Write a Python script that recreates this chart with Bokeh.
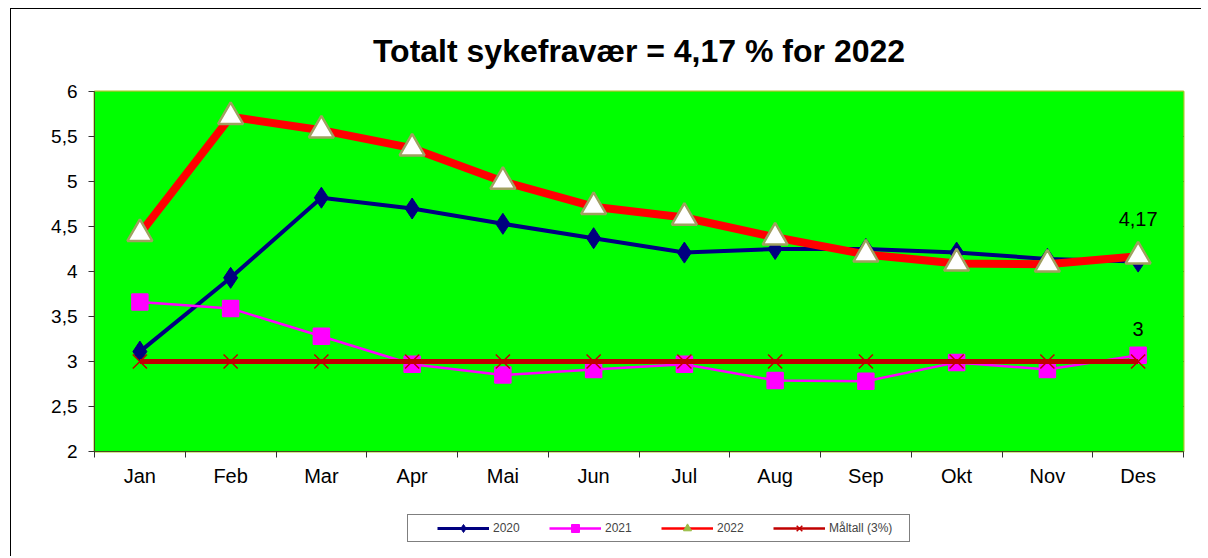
from bokeh.plotting import figure
from bokeh.layouts import column
from bokeh.models import (FixedTicker, Legend, LegendItem, Label, BoxAnnotation,
                          ColumnDataSource, Range1d, Title)
from bokeh.embed import file_html
from bokeh.resources import INLINE

months = ["Jan", "Feb", "Mar", "Apr", "Mai", "Jun", "Jul", "Aug", "Sep", "Okt", "Nov", "Des"]
y2020 = [3.11, 3.93, 4.82, 4.70, 4.53, 4.37, 4.21, 4.25, 4.25, 4.21, 4.14, 4.11]
y2021 = [3.66, 3.59, 3.28, 2.97, 2.85, 2.91, 2.97, 2.79, 2.78, 2.99, 2.91, 3.07]
y2022 = [4.42, 5.72, 5.57, 5.37, 5.00, 4.72, 4.60, 4.38, 4.19, 4.09, 4.08, 4.17]
target = [3, 3, 3, 3, 3, 3, 3, 3, 3, 3, 3, 3]
yticks = [2, 2.5, 3, 3.5, 4, 4.5, 5, 5.5, 6]
title_text = "Totalt sykefravær = 4,17 % for 2022"
series_names = ["2020", "2021", "2022", "Måltall (3%)"]

FONT = "Liberation Sans"
xs = list(range(1, len(months) + 1))

# ---------------- main chart ----------------
p = figure(width=1190, height=487, output_backend="svg", toolbar_location=None,
           x_range=Range1d(0.5, 12.5), y_range=Range1d(2, 6),
           min_border_left=83, min_border_right=18, min_border_top=82, min_border_bottom=45)

p.background_fill_color = "white"
p.border_fill_color = "white"
p.outline_line_color = "#a6c828"
p.outline_line_width = 2

p.add_layout(BoxAnnotation(left=0.5, right=12.5, bottom=2, top=6, fill_color="#00ff00",
                           fill_alpha=1, line_alpha=0, level="underlay"))

# spacer below the title, then the title
p.add_layout(Title(text="\u00a0", text_font_size="6px", text_font=FONT), "above")
p.title.text = title_text
p.title.align = "center"
p.title.text_font = FONT
p.title.text_font_size = "32px"
p.title.text_font_style = "bold"
p.title.text_color = "black"

p.xaxis.ticker = FixedTicker(ticks=xs, minor_ticks=[i + 0.5 for i in range(0, 13)])
p.xaxis.major_label_overrides = {i + 1: m for i, m in enumerate(months)}
p.xaxis.major_tick_out = 0
p.xaxis.major_tick_in = 0
p.xaxis.minor_tick_out = 6
p.xaxis.minor_tick_in = 0
p.xaxis.minor_tick_line_color = "#333333"
p.xaxis.axis_line_color = "#4a4a20"
p.xaxis.major_label_standoff = 7
p.xaxis.major_label_text_font = FONT
p.xaxis.major_label_text_font_size = "20px"
p.xaxis.major_label_text_color = "black"

p.yaxis.ticker = FixedTicker(ticks=yticks, minor_ticks=[])
p.yaxis.major_label_overrides = {t: (f"{t:g}").replace(".", ",") for t in yticks}
p.yaxis.major_tick_out = 6
p.yaxis.major_tick_in = 0
p.yaxis.major_tick_line_color = "#333333"
p.yaxis.axis_line_color = "#4a4a20"
p.yaxis.major_label_standoff = 11
p.yaxis.major_label_text_font = FONT
p.yaxis.major_label_text_font_size = "19px"
p.yaxis.major_label_text_color = "black"

p.xgrid.visible = False
p.ygrid.ticker = FixedTicker(ticks=yticks[1:-1])
p.ygrid.grid_line_color = "black"
p.ygrid.grid_line_width = 1
p.ygrid.level = "underlay"

src = ColumnDataSource(dict(x=xs, a=y2020, b=y2021, c=y2022, t=target))
p.line("x", "a", source=src, line_color="#000080", line_width=4)
p.scatter("x", "a", source=src, marker="diamond", size=21, fill_color="#000080", line_color="#000080")
p.line("x", "b", source=src, line_color="#ff00ff", line_width=2.5)
p.scatter("x", "b", source=src, marker="square", size=16, fill_color="#ff00ff", line_color="#ff00ff",
          line_width=1.5)
p.line("x", "c", source=src, line_color="#ff0000", line_width=8)
p.scatter("x", "c", source=src, marker="triangle", size=25, fill_color="white", line_color="#a0a060",
          line_width=2.5)
p.line("x", "t", source=src, line_color="#c00000", line_width=5)
p.scatter("x", "t", source=src, marker="x", size=20, line_color="#c00000", line_width=1.5)

p.add_layout(Label(x=xs[-1], y=y2022[-1], text=f"{y2022[-1]:.2f}".replace(".", ","),
                   y_offset=30, text_align="center", text_baseline="bottom",
                   text_font=FONT, text_font_size="20px", text_color="black"))
p.add_layout(Label(x=xs[-1], y=target[-1], text=f"{target[-1]:g}",
                   y_offset=26, text_align="center", text_baseline="bottom",
                   text_font=FONT, text_font_size="20px", text_color="black"))

# ---------------- legend strip ----------------
q = figure(width=1190, height=60, output_backend="svg", toolbar_location=None,
           x_range=Range1d(0, 1), y_range=Range1d(0, 1),
           min_border_left=0, min_border_right=0, min_border_top=0, min_border_bottom=0)
q.axis.visible = False
q.grid.visible = False
q.outline_line_color = None
q.background_fill_color = "white"
q.border_fill_color = "white"

e = ColumnDataSource(dict(x=[-5, -4], y=[-5, -4]))
l1 = q.line("x", "y", source=e, line_color="#000080", line_width=3)
m1 = q.scatter("x", "y", source=e, marker="diamond", fill_color="#000080", line_color="#000080")
l2 = q.line("x", "y", source=e, line_color="#ff00ff", line_width=2.5)
m2 = q.scatter("x", "y", source=e, marker="square", fill_color="#ff00ff", line_color="#ff00ff")
l3 = q.line("x", "y", source=e, line_color="#ff0000", line_width=2.5)
m3 = q.scatter("x", "y", source=e, marker="triangle", fill_color="#99bb44", line_color="#99bb44")
l4 = q.line("x", "y", source=e, line_color="#c00000", line_width=2.5)
m4 = q.scatter("x", "y", source=e, marker="x", line_color="#c00000", line_width=1.5)

pad_r = "\u00a0" * 4
legend = Legend(items=[LegendItem(label=series_names[0], renderers=[l1, m1]),
                       LegendItem(label=series_names[1], renderers=[l2, m2]),
                       LegendItem(label=series_names[2], renderers=[l3, m3]),
                       LegendItem(label=series_names[3] + pad_r, renderers=[l4, m4])],
                orientation="horizontal", location=(313, 14),
                title="\u00a0", title_location="left", title_standoff=15,
                title_text_font_size="10px",
                glyph_width=52, glyph_height=20, label_standoff=4, spacing=0,
                label_width=56, padding=3, margin=0,
                border_line_color="black", border_line_width=1,
                background_fill_color="white", background_fill_alpha=1,
                label_text_font=FONT, label_text_font_size="12px", label_height=14)
q.add_layout(legend, "center")

layout = column(p, q, spacing=0)
layout.styles = {"border-left": "1px solid #000000", "border-top": "1px solid #000000",
                 "margin-left": "10px", "margin-top": "8px"}

open("out.html", "w").write(file_html(layout, INLINE))
